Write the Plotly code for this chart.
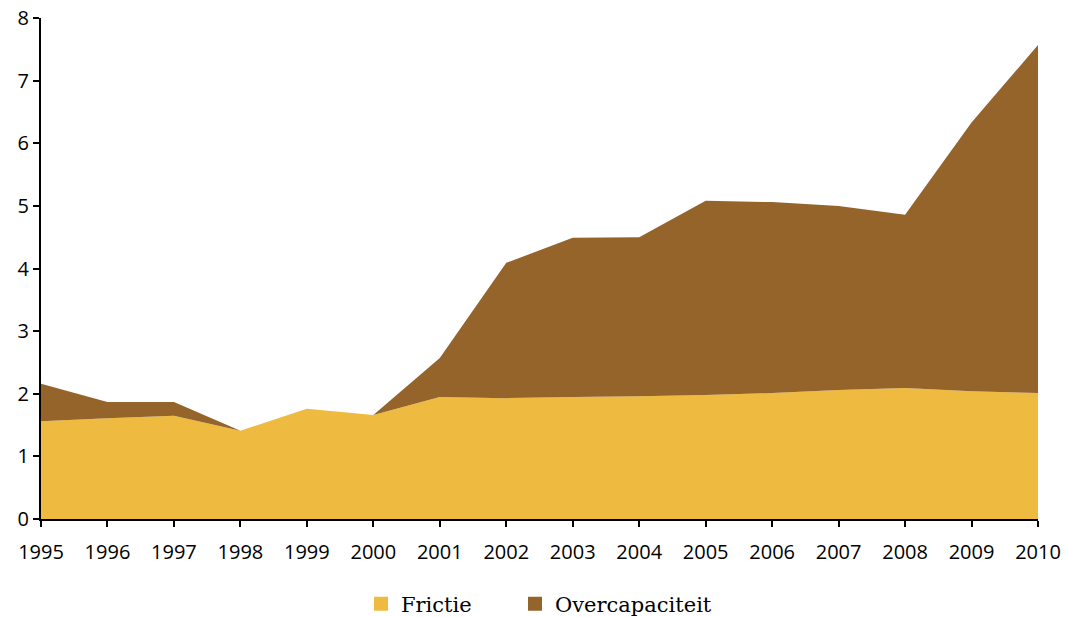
import plotly.graph_objects as go

years = list(range(1995, 2011))
frictie = [1.56, 1.61, 1.65, 1.41, 1.76, 1.66, 1.95, 1.93, 1.95, 1.96,
           1.98, 2.01, 2.06, 2.09, 2.04, 2.01]
totaal = [2.16, 1.87, 1.87, 1.41, 1.76, 1.66, 2.57, 4.09, 4.49, 4.50,
          5.08, 5.06, 5.00, 4.86, 6.33, 7.57]
overcapaciteit = [round(t - f, 2) for t, f in zip(totaal, frictie)]
namen = ["Frictie", "Overcapaciteit"]

geel = "#EFBA40"
bruin = "#94642A"

fig = go.Figure()
fig.add_trace(go.Scatter(
    x=years, y=frictie, name=namen[0], stackgroup="a",
    mode="none", fillcolor=geel, showlegend=False,
))
fig.add_trace(go.Scatter(
    x=years, y=overcapaciteit, name=namen[1], stackgroup="a",
    mode="none", fillcolor=bruin, showlegend=False,
))
# square legend keys like the original, one legend box per item
for naam, kleur, lg in zip(namen, [geel, bruin], ["legend", "legend2"]):
    fig.add_trace(go.Scatter(
        x=[None], y=[None], name=naam, mode="markers", legend=lg,
        marker=dict(symbol="square", size=14, color=kleur),
    ))

legend_style = dict(
    orientation="h", xref="container", xanchor="left",
    y=0.021, yref="container", yanchor="middle",
    font=dict(family="DejaVu Serif", size=21), itemwidth=30,
)

fig.update_layout(
    width=1066, height=617,
    margin=dict(l=41, r=28, t=18, b=98, autoexpand=False),
    plot_bgcolor="white", paper_bgcolor="white",
    font=dict(family="Open Sans", size=20, color="black"),
    legend=dict(x=361 / 1066, **legend_style),
    legend2=dict(x=515 / 1066, **legend_style),
    showlegend=True,
)
fig.update_xaxes(
    range=[1995, 2010], tickvals=years, ticktext=[str(y) for y in years],
    showgrid=False, zeroline=False, showline=True, linecolor="black",
    linewidth=2, ticks="outside", ticklen=6, tickwidth=2, tickcolor="black",
    ticklabelstandoff=8, automargin=False,
)
fig.update_yaxes(
    range=[0, 8], dtick=1, showgrid=False, zeroline=False, showline=True,
    linecolor="black", linewidth=2, ticks="outside", ticklen=6,
    tickwidth=2, tickcolor="black", automargin=False,
)

# page body margin would shift the figure by 8px
fig.write_html("out.html", config={"displayModeBar": False},
               post_script="document.body.style.margin='0';")
